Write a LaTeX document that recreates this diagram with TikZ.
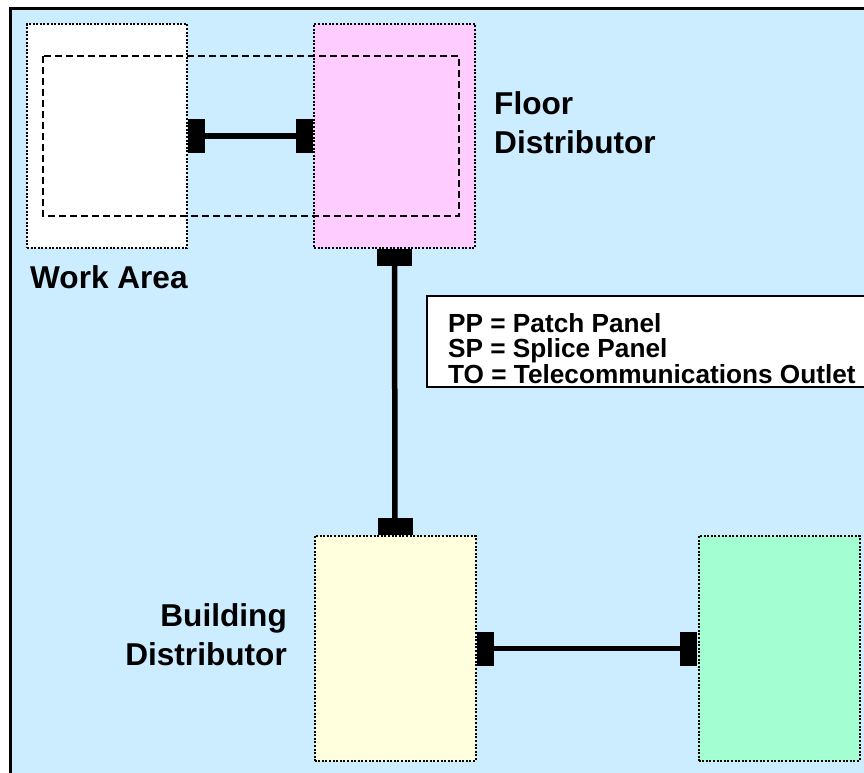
\documentclass[tikz,border=0pt]{standalone}
\usepackage{fontspec}
\setmainfont{Liberation Sans}
\definecolor{skyfill}{RGB}{204,236,255}
\definecolor{floorfill}{RGB}{255,204,255}
\definecolor{buildfill}{RGB}{255,255,221}
\definecolor{campusfill}{RGB}{163,255,210}
\begin{document}
\begin{tikzpicture}[x=1pt,y=-1pt,
  area/.style={draw=black, line width=2pt, dash pattern=on 2pt off 1.6pt,
    inner sep=0pt, minimum width=161pt, minimum height=225pt},
  plug/.style={fill=black, draw=none, inner sep=0pt},
  plugh/.style={plug, minimum width=17pt, minimum height=34pt},
  plugv/.style={plug, minimum width=35pt, minimum height=17pt},
  cable/.style={line width=5.5pt},
  label/.style={font=\fontsize{31.6}{39}\selectfont\bfseries, inner sep=0pt},
  keytext/.style={font=\fontsize{26.2}{25.5}\selectfont\bfseries, inner sep=0pt, align=left}]
\useasboundingbox (0,0) rectangle (864,772);
\clip (0,0) rectangle (864,772);
\fill[white] (0,0) rectangle (864,772);
% outer frame
\draw[line width=3pt, fill=skyfill] (10,8) rectangle (900,820);

% distributor areas
\node[area, fill=white, minimum width=160pt, minimum height=224pt] (wa) at (107,136) {};
\node[area, fill=floorfill, minimum height=224pt] (fd) at (394.5,136) {};
\node[area, fill=buildfill] (bd) at (395,648.5) {};
\node[area, fill=campusfill] (cd) at (779,648.5) {};

% dashed outline spanning the work area and floor distributor
\draw[line width=1.6pt, dash pattern=on 7pt off 4pt] (43,56) rectangle (459,216);

% connector plugs
\node[plugh, anchor=west] (waR) at (wa.east) {};
\node[plugh, anchor=east] (fdL) at (fd.west) {};
\node[plugv, anchor=north] (fdB) at (fd.south) {};
\node[plugv, anchor=south] (bdT) at (bd.north) {};
\node[plugh, anchor=west] (bdR) at (bd.east) {};
\node[plugh, anchor=east] (cdL) at (cd.west) {};

% cables
\draw[cable] (waR.center) -- (fdL.center);
\draw[cable] (fdB.center) -- (bdT.center);
\draw[cable] (bdR.center) -- (cdL.center);

% labels
\node[label, anchor=base west] (waLabel) at (30,288) {Work Area};
\node[label, anchor=north west, align=left] (fdLabel) at (494,91) {Floor\\Distributor};
\node[label, anchor=north east, align=right] (bdLabel) at (287,603) {Building\\Distributor};

% key
\node[draw=black, fill=white, line width=1.5pt, inner sep=0pt, anchor=north west,
  minimum width=470pt, minimum height=91pt] (keybox) at (426,295) {};
\node[keytext, anchor=north west] (key) at (448,313)
  {PP = Patch Panel\\SP = Splice Panel\\TO = Telecommunications Outlet};
\end{tikzpicture}
\end{document}
